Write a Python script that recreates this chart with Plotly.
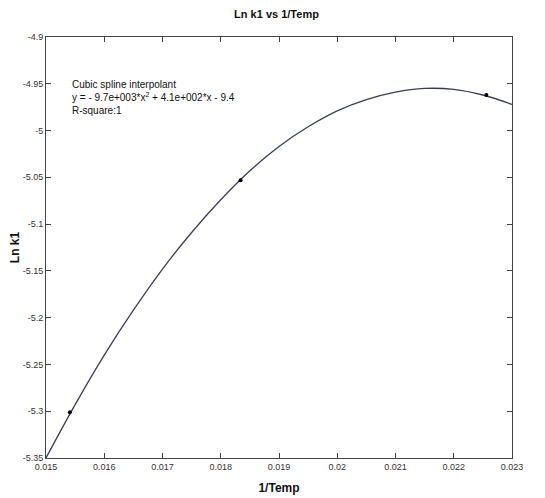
import plotly.graph_objects as go

# Data points (1/Temp, Ln k1)
inv_temp = [0.01541, 0.01834, 0.02256]
ln_k1 = [-5.301, -5.053, -4.962]

# Fitted curve
curve_x = [0.015, 0.0155, 0.016, 0.0165, 0.017, 0.0175, 0.018, 0.0185, 0.019,
           0.0195, 0.020, 0.0205, 0.021, 0.0215, 0.022, 0.0225, 0.023]
curve_y = [-5.350, -5.293, -5.240, -5.192, -5.148, -5.109, -5.074, -5.043, -5.017,
           -4.996, -4.979, -4.967, -4.959, -4.955, -4.956, -4.962, -4.972]

x_ticks = [0.015, 0.016, 0.017, 0.018, 0.019, 0.02, 0.021, 0.022, 0.023]
y_ticks = [-4.9, -4.95, -5, -5.05, -5.1, -5.15, -5.2, -5.25, -5.3, -5.35]

font = "Liberation Sans, Arial, sans-serif"

fig = go.Figure()
fig.add_trace(go.Scatter(x=curve_x, y=curve_y, mode="lines", line_shape="spline",
                         line=dict(color="#3a3f55", width=1.3), hoverinfo="skip"))
fig.add_trace(go.Scatter(x=inv_temp, y=ln_k1, mode="markers",
                         marker=dict(color="black", size=4)))

fig.add_annotation(
    x=0.01541, y=-4.943, xref="x", yref="y", xanchor="left", yanchor="top",
    align="left", showarrow=False,
    text="Cubic spline interpolant<br>y = - 9.7e+003*x<sup>2</sup> + 4.1e+002*x - 9.4<br>R-square:1",
    font=dict(family=font, size=10, color="#111"))

axis_common = dict(showgrid=False, zeroline=False, ticks="inside", ticklen=5,
                   tickcolor="#444", showline=True, linecolor="#444", linewidth=1,
                   mirror="ticks", automargin=False,
                   tickfont=dict(family=font, size=9, color="#333"))

fig.update_xaxes(range=[0.015, 0.023], tickvals=x_ticks,
                 ticktext=[("%g" % v) for v in x_ticks],
                 title=dict(text="<b>1/Temp</b>", font=dict(family=font, size=12, color="#111"),
                            standoff=12), **axis_common)
fig.update_yaxes(range=[-5.35, -4.9], tickvals=y_ticks,
                 ticktext=[("%g" % v) for v in y_ticks],
                 title=dict(text="<b>Ln k1</b>", font=dict(family=font, size=12, color="#111"),
                            standoff=4), **axis_common)

fig.update_layout(
    width=537, height=490,
    margin=dict(l=38, r=33, t=29, b=40),
    paper_bgcolor="white", plot_bgcolor="white",
    showlegend=False,
    title=dict(text="<b>Ln k1 vs 1/Temp</b>", x=0.50, xanchor="center",
               y=0.988, yanchor="middle", yref="container",
               font=dict(family=font, size=11, color="#111")),
)

fig.write_html("out.html")
